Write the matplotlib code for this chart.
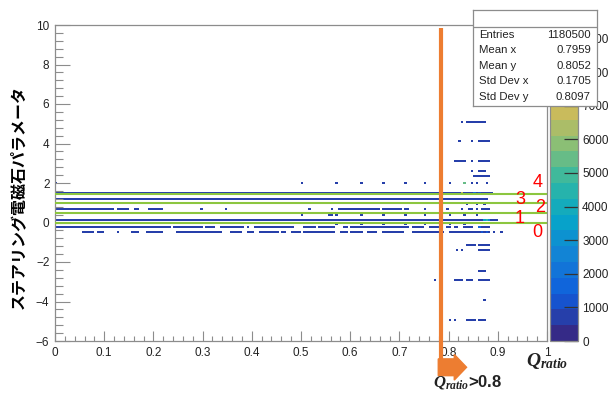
import numpy as np
import matplotlib
matplotlib.use("Agg")
import matplotlib.pyplot as plt
from matplotlib.colors import LinearSegmentedColormap, ListedColormap, BoundaryNorm
from matplotlib.patches import FancyArrow
from matplotlib.ticker import MultipleLocator

plt.rcParams["font.family"] = ["Liberation Sans", "DejaVu Sans"]
plt.rcParams["mathtext.fontset"] = "custom"
plt.rcParams["mathtext.it"] = "Liberation Serif:italic:bold"
plt.rcParams["mathtext.rm"] = "Liberation Serif:bold"

# ---- data ----
# dense rows: y centre and filled x ranges
dense_y = [1.52, 1.18, 0.72, 0.14, -0.24, -0.48]
dense_x = [
    [(0.0, 0.888)],
    [(0.0, 0.875)],
    [(0.0, 0.08), (0.085, 0.118), (0.126, 0.136), (0.143, 0.149), (0.163, 0.169),
     (0.193, 0.218), (0.295, 0.295), (0.346, 0.346), (0.518, 0.518), (0.561, 0.561),
     (0.579, 0.655), (0.665, 0.701), (0.711, 0.718), (0.752, 0.752), (0.799, 0.799),
     (0.829, 0.829), (0.843, 0.849), (0.858, 0.858), (0.868, 0.880)],
    [(0.0, 0.895)],
    [(0.0, 0.006), (0.014, 0.030), (0.035, 0.116), (0.122, 0.152), (0.159, 0.207),
     (0.213, 0.234), (0.240, 0.299), (0.305, 0.321), (0.335, 0.380), (0.390, 0.390),
     (0.407, 0.484), (0.508, 0.528), (0.535, 0.563), (0.569, 0.569), (0.585, 0.593),
     (0.600, 0.626), (0.634, 0.661), (0.667, 0.717), (0.728, 0.748), (0.762, 0.783),
     (0.797, 0.803), (0.813, 0.819), (0.833, 0.848), (0.860, 0.870), (0.874, 0.880)],
    [(0.055, 0.077), (0.085, 0.096), (0.126, 0.126), (0.157, 0.167), (0.187, 0.217),
     (0.248, 0.335), (0.356, 0.376), (0.392, 0.402), (0.417, 0.451), (0.461, 0.467),
     (0.482, 0.488), (0.492, 0.498), (0.508, 0.563), (0.569, 0.569), (0.583, 0.593),
     (0.600, 0.624), (0.636, 0.654), (0.665, 0.707), (0.726, 0.787), (0.803, 0.860),
     (0.874, 0.880), (0.894, 0.894), (0.909, 0.909)],
]

# sparse rows (isolated bins), mostly at high Q_ratio
sparse_y = [5.11, 4.15, 3.12, 2.62, 2.36, 2.01, 0.93, 0.38, -0.08,
            -1.13, -1.40, -2.43, -2.90, -3.88, -4.93]
sparse_x = [
    [(0.827, 0.827), (0.839, 0.874)],
    [(0.821, 0.821), (0.848, 0.848), (0.864, 0.884)],
    [(0.813, 0.833), (0.848, 0.848), (0.864, 0.880)],
    [(0.848, 0.848), (0.864, 0.874)],
    [(0.850, 0.880)],
    [(0.0, 0.0), (0.502, 0.502), (0.571, 0.571), (0.622, 0.622), (0.667, 0.667),
     (0.711, 0.711), (0.752, 0.752), (0.803, 0.803), (0.833, 0.833), (0.848, 0.848),
     (0.858, 0.858), (0.878, 0.878)],
    [(0.838, 0.838), (0.858, 0.858), (0.870, 0.870)],
    [(0.502, 0.502), (0.555, 0.563), (0.571, 0.571), (0.620, 0.620), (0.667, 0.667),
     (0.711, 0.711), (0.752, 0.752), (0.803, 0.803), (0.833, 0.833), (0.858, 0.858)],
    [(0.571, 0.571), (0.622, 0.622), (0.667, 0.667), (0.711, 0.711), (0.752, 0.752),
     (0.803, 0.803), (0.833, 0.833)],
    [(0.837, 0.854), (0.864, 0.880)],
    [(0.815, 0.815), (0.827, 0.827), (0.864, 0.880)],
    [(0.860, 0.874)],
    [(0.770, 0.770), (0.813, 0.813), (0.819, 0.829), (0.837, 0.848), (0.860, 0.880)],
    [(0.872, 0.872)],
    [(0.801, 0.801), (0.811, 0.811), (0.837, 0.850), (0.860, 0.874)],
]

base_count = 700

# brighter bins
hot_x = [0.829, 0.833, 0.852, 0.862, 0.872, 0.878, 0.884, 0.862, 0.868, 0.875]
hot_y = [1.52, 2.01, 1.52, 1.52, 0.14, 0.14, 0.14, -0.24, -0.48, -0.48]
hot_counts = [6800, 5600, 1600, 1300, 3300, 4600, 2400, 1500, 1400, 1100]

# overlay lines and their labels
green_y = [0.0, 0.5, 1.0, 1.45]
label_text = ["4", "3", "2", "1", "0"]
label_x = [0.980, 0.945, 0.986, 0.945, 0.980]
label_y = [2.01, 1.15, 0.74, 0.19, -0.52]
cut_x = 0.785

stats_names = ["Entries", "Mean x", "Mean y", "Std Dev x", "Std Dev y"]
stats_values = ["1180500", "0.7959", "0.8052", "0.1705", "0.8097"]

zmax = 9400
n_contours = 20
cbar_ticks = list(range(0, 10000, 1000))

# ---- histogram grid ----
xbin = 0.005
ybin = 0.05
x_edges = np.linspace(0, 1, 201)
y_edges = np.linspace(-6, 10, 321)
counts = np.zeros((len(y_edges) - 1, len(x_edges) - 1))


def fill(yc, segs, value):
    j0 = int(round((yc + 6 - 0.05) / ybin))
    for a, b in segs:
        i0 = int(a / xbin + 1e-9)
        i1 = min(int(b / xbin + 1e-9) + 1, counts.shape[1])
        counts[j0:j0 + 2, i0:i1] = value


for yc, segs in zip(dense_y, dense_x):
    fill(yc, segs, base_count)
for yc, segs in zip(sparse_y, sparse_x):
    fill(yc, segs, base_count)
for xc, yc, c in zip(hot_x, hot_y, hot_counts):
    fill(yc, [(xc, xc)], c)

# ROOT kBird palette
stops = [0.0, 0.125, 0.25, 0.375, 0.5, 0.625, 0.75, 0.875, 1.0]
red = [0.2082, 0.0592, 0.0780, 0.0232, 0.1802, 0.5301, 0.8186, 0.9956, 0.9764]
green = [0.1664, 0.3599, 0.5041, 0.6419, 0.7178, 0.7492, 0.7328, 0.7862, 0.9832]
blue = [0.5293, 0.8684, 0.8385, 0.7914, 0.6425, 0.4662, 0.3499, 0.1968, 0.0539]
bird = LinearSegmentedColormap.from_list(
    "bird", list(zip(stops, zip(red, green, blue))))
cmap = ListedColormap(bird(np.linspace(0, 1, n_contours)))
norm = BoundaryNorm(np.linspace(0, zmax, n_contours + 1), n_contours)

W, H = 612, 394
fig = plt.figure(figsize=(W / 100, H / 100), dpi=100)


def px_box(x0, y0, x1, y1):
    return [x0 / W, 1 - y1 / H, (x1 - x0) / W, (y1 - y0) / H]


frame_col = "#8c8c8c"
text_col = "#222222"
orange = "#ED7D31"

ax = fig.add_axes(px_box(55, 25, 547, 341))
mesh = ax.pcolormesh(x_edges, y_edges, np.ma.masked_equal(counts, 0),
                     cmap=cmap, norm=norm, shading="flat")
ax.set_xlim(0, 1)
ax.set_ylim(-6, 10)
ax.xaxis.set_major_locator(MultipleLocator(0.1))
ax.xaxis.set_minor_locator(MultipleLocator(0.02))
ax.yaxis.set_major_locator(MultipleLocator(2))
ax.yaxis.set_minor_locator(MultipleLocator(0.4))
ax.tick_params(axis="x", which="major", direction="in", length=7.2, width=0.8,
               color=frame_col, labelsize=8.5, labelcolor=text_col, pad=4)
ax.tick_params(axis="x", which="minor", direction="in", length=3.6, width=0.8,
               color=frame_col)
ax.tick_params(axis="y", which="major", direction="in", length=10.8, width=0.8,
               color=frame_col, labelsize=8.5, labelcolor=text_col, pad=4)
ax.tick_params(axis="y", which="minor", direction="in", length=5.8, width=0.8,
               color=frame_col)
xt = np.round(np.arange(0, 1.01, 0.1), 1)
ax.set_xticks(xt)
ax.set_xticklabels(["0" if v == 0 else ("1" if v == 1 else f"{v:.1f}") for v in xt])
for s in ax.spines.values():
    s.set_color(frame_col)
    s.set_linewidth(0.9)

for gy in green_y:
    ax.axhline(gy, color="#8CC63F", lw=1.5, zorder=3)

for t, lx, ly in zip(label_text, label_x, label_y):
    ax.text(lx, ly, t, color="red", fontsize=13, ha="center", va="center",
            family=["Liberation Sans"], zorder=5)

# cut line with arrow
ax.plot([cut_x, cut_x], [9.86, -6.95], color=orange, lw=3, clip_on=False,
        solid_capstyle="butt", zorder=6)
ax.add_patch(FancyArrow(cut_x - 0.006, -7.33, 0.0575, 0, width=0.85,
                        head_width=1.3, head_length=0.025,
                        length_includes_head=True, color=orange,
                        clip_on=False, zorder=6))

# colour bar
cax = fig.add_axes(px_box(550, 25, 578, 341))
cb = fig.colorbar(mesh, cax=cax, ticks=cbar_ticks)
cb.outline.set_edgecolor(frame_col)
cb.outline.set_linewidth(0.9)
cax.minorticks_off()
cax.tick_params(direction="in", length=10, width=0.9, color="#333333",
                labelsize=8.5, labelcolor=text_col, pad=3)
cax.set_yticklabels([str(v) for v in cbar_ticks])

# stats box
sb = fig.add_axes(px_box(473, 10, 597, 106), zorder=10)
sb.set_xlim(0, 1)
sb.set_ylim(106, 10)
sb.set_xticks([])
sb.set_yticks([])
sb.set_facecolor("white")
for s in sb.spines.values():
    s.set_color(frame_col)
    s.set_linewidth(0.9)
sb.axhline(27, color=frame_col, lw=0.9)
for i, (n, v) in enumerate(zip(stats_names, stats_values)):
    yy = 34.5 + i * 15.6
    sb.text(6 / 124, yy, n, fontsize=8.2, color=text_col, va="center", ha="left")
    sb.text(118 / 124, yy, v, fontsize=8.2, color=text_col, va="center", ha="right")

# titles
fig.text(18 / W, 1 - 197 / H, "ステアリング電磁石パラメータ", rotation=90,
         fontsize=11.5, fontweight="bold", ha="center", va="center",
         family=["Noto Sans CJK JP", "DejaVu Sans"])
fig.text(568 / W, 1 - 361 / H, r"$Q_{ratio}$", fontsize=14, ha="right",
         va="center", color=text_col)
fig.text(433 / W, 1 - 382 / H, r"$Q_{ratio}$>0.8", fontsize=12, ha="left",
         va="center", fontweight="bold", color=text_col)

fig.savefig("out.png", dpi=100)
